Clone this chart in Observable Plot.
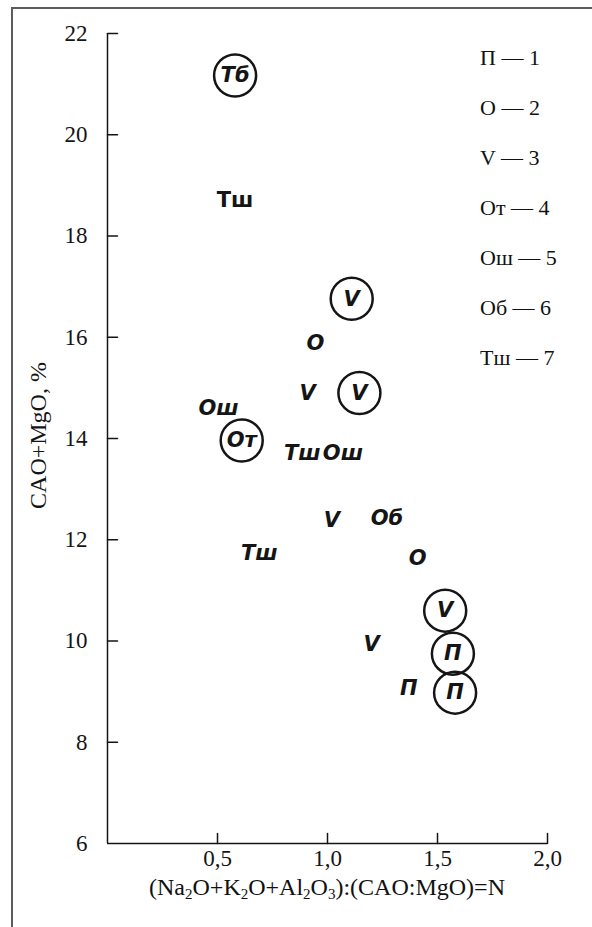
<!DOCTYPE html>
<html><head><meta charset="utf-8">
<script src="https://cdn.jsdelivr.net/npm/d3@7"></script>
<script src="https://cdn.jsdelivr.net/npm/@observablehq/plot@0.6"></script>
<style>
body{margin:0;background:#fff;}
#wrap{position:relative;width:592px;height:927px;overflow:hidden;background:#fff;}
#frame{position:absolute;left:11px;top:7px;right:-10px;bottom:-10px;border-top:2px solid #5c5c5c;border-left:2px solid #5c5c5c;}
#chart{position:absolute;left:0;top:0;}
#chart g[aria-label$="tick label"], #chart g[aria-label$="tick label"] text{font-family:"Liberation Serif","Times New Roman",serif !important;font-variant:normal !important;}
#legend{position:absolute;left:480px;top:33px;font-family:"Liberation Serif",serif;font-size:22px;line-height:50px;color:#111;}
#xtitle{position:absolute;left:107px;width:440px;top:875px;text-align:center;font-family:"Liberation Serif",serif;font-size:24px;line-height:24px;color:#111;white-space:nowrap;}
#xtitle sub{font-size:15px;vertical-align:-4px;line-height:0;}
</style></head><body>
<div id="wrap"><div id="frame"></div><div id="chart"></div><div id="legend"></div><div id="xtitle"></div></div>
<script>
// point data
const labels  = ["Тб","Тш","V","О","V","V","Ош","От","Тш","Ош","V","Об","Тш","О","V","V","П","П","П"];
const xValues = [0.58,0.58,1.11,0.945,0.91,1.145,0.505,0.61,0.885,1.07,1.02,1.27,0.69,1.41,1.535,1.20,1.57,1.37,1.58];
const yValues = [21.17,18.70,16.76,15.89,14.89,14.90,14.59,13.96,13.70,13.70,12.38,12.42,11.74,11.63,10.60,9.94,9.75,9.06,8.98];
const circled = [1,0,1,0,0,1,0,1,0,0,0,0,0,0,1,0,1,0,1];
const upright = [0,1,0,0,0,0,0,0,0,0,0,0,0,0,0,0,0,0,0];
// legend
const legendKeys = ["П","О","V","От","Ош","Об","Тш"];
const legendNums = ["1","2","3","4","5","6","7"];
// axes
const xTicks = [0.5,1.0,1.5,2.0];
const xTickLabels = ["0,5","1,0","1,5","2,0"];
const yTicks = [6,8,10,12,14,16,18,20,22];
const yTitle = "CAO+MgO, %";
const xTitleHTML = "(Na<sub>2</sub>O+K<sub>2</sub>O+Al<sub>2</sub>O<sub>3</sub>):(CAO:MgO)=N";

const data = labels.map((t,i)=>({t, x:xValues[i], y:yValues[i], c:circled[i], u:upright[i]}));
const tickShape = {draw(ctx, l){ ctx.moveTo(0,0); ctx.lineTo(0,-l); }};
const ink = "#151515";
const serif = "Liberation Serif, Times New Roman, serif";

const chart = Plot.plot({
  width:592, height:927,
  marginLeft:107, marginRight:45, marginTop:33, marginBottom:84,
  x:{domain:[0,2]}, y:{domain:[6,22]},
  style:{background:"transparent", fontFamily:serif, color:ink, overflow:"visible"},
  marks:[
    Plot.ruleX([0],{y1:6,y2:22,stroke:ink,strokeWidth:1.5}),
    Plot.ruleY([6],{x1:0,x2:2,stroke:ink,strokeWidth:1.5}),
    Plot.vector(yTicks.filter(d=>d>6),{x:0,y:d=>d,length:10,rotate:90,anchor:"start",shape:tickShape,stroke:ink,strokeWidth:1.5}),
    Plot.vector(xTicks,{x:d=>d,y:6,length:10,rotate:0,anchor:"start",shape:tickShape,stroke:ink,strokeWidth:1.5}),
    Plot.axisY({ticks:yTicks,tickSize:0,tickPadding:20,fontSize:23,fontFamily:serif,label:null}),
    Plot.axisX({ticks:xTicks,tickSize:0,tickPadding:6,fontSize:23,fontFamily:serif,label:null,tickFormat:(d)=>xTickLabels[xTicks.indexOf(d)]}),
    Plot.text([yTitle],{text:d=>d,frameAnchor:"left",textAnchor:"middle",dx:-69,dy:-3,rotate:-90,fontSize:24,fontFamily:serif,fill:ink}),
    Plot.dot(data.filter(d=>d.c),{x:"x",y:"y",r:21,stroke:ink,strokeWidth:2.5,fill:"none"}),
    Plot.text(data.filter(d=>!d.u),{x:"x",y:"y",text:"t",fontSize:21,fontWeight:"bold",fontStyle:"italic",fontFamily:"DejaVu Sans",fill:ink}),
    Plot.text(data.filter(d=>d.u),{x:"x",y:"y",text:"t",fontSize:21,fontWeight:"bold",fontFamily:"DejaVu Sans",fill:ink})
  ]
});
document.getElementById("chart").appendChild(chart);
document.getElementById("legend").innerHTML = legendKeys.map((k,i)=>`<div>${k} — ${legendNums[i]}</div>`).join("");
document.getElementById("xtitle").innerHTML = xTitleHTML;
</script>
</body></html>
